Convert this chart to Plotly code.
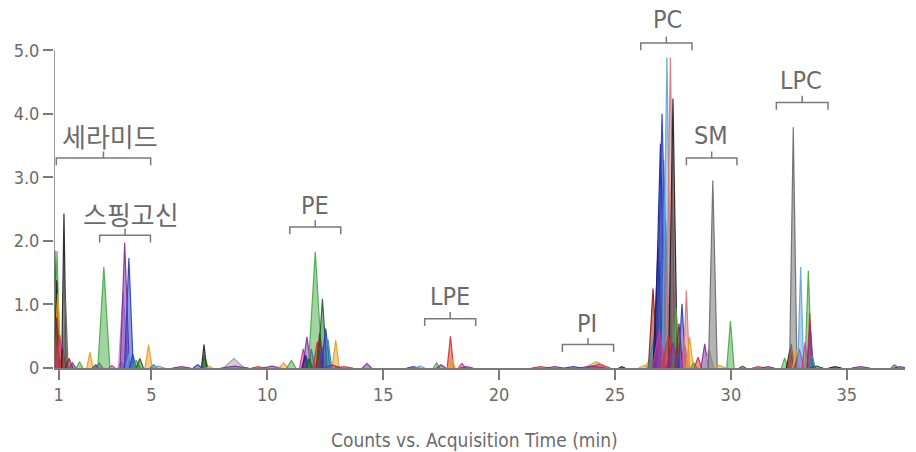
import plotly.graph_objects as go

# ---------------- data ----------------
# retention time (min), peak height, half base width (min), trace colour key
peak_time = [
    0.84, 0.93, 0.92, 0.96, 0.90, 1.05, 1.18, 1.23, 1.30, 1.45, 1.60, 1.90, 2.35, 2.60, 2.75,
    2.95, 3.30, 3.70, 3.78, 3.85, 4.03, 4.10, 4.20, 4.35, 4.50, 4.88, 5.10, 5.30, 6.30, 7.00,
    7.27, 7.30, 7.50, 8.56, 8.60, 9.60, 10.20, 10.70, 11.04,
    11.55, 11.71, 11.65, 11.90, 12.07, 12.16, 12.26, 12.38, 12.35, 12.52, 12.62, 12.95, 11.80,
    12.80, 14.30, 13.30,
    16.30, 16.60, 17.30, 17.50, 17.90, 17.95, 18.40, 18.60,
    21.80, 22.40, 23.20, 24.20, 24.30, 24.00, 25.30,
    26.30, 26.50, 26.64, 26.70, 26.86, 26.96, 27.03, 27.10, 27.19, 27.24, 27.39, 27.50, 26.90,
    27.30, 27.63, 27.76, 27.50, 27.89, 28.00, 28.08, 28.22, 28.40, 28.58, 28.87, 29.05, 29.22,
    29.50, 29.98, 30.50, 31.20, 31.60,
    32.32, 32.55, 32.60, 32.69, 32.80, 32.95, 33.01, 33.20, 33.34, 33.40, 33.42, 33.50, 33.70,
    34.50, 35.60, 37.06, 37.30,
]
peak_height = [
    1.85, 1.84, 1.38, 1.17, 0.80, 0.52, 0.30, 2.43, 1.07, 0.15, 0.08, 0.10, 0.25, 0.05, 0.08,
    1.59, 0.04, 0.10, 1.20, 1.97, 1.73, 0.30, 0.22, 0.12, 0.15, 0.37, 0.05, 0.03, 0.02, 0.05,
    0.37, 0.20, 0.03, 0.15, 0.03, 0.02, 0.03, 0.08, 0.12,
    0.30, 0.49, 0.20, 0.30, 1.83, 0.41, 0.55, 1.09, 0.35, 0.62, 0.45, 0.44, 0.15,
    0.05, 0.07, 0.02,
    0.02, 0.03, 0.08, 0.05, 0.50, 0.15, 0.07, 0.02,
    0.02, 0.02, 0.02, 0.10, 0.06, 0.03, 0.02,
    0.05, 0.15, 1.25, 0.50, 1.90, 3.53, 4.00, 3.27, 2.32, 4.89, 4.89, 4.24, 0.60,
    0.50, 0.95, 0.70, 0.40, 1.01, 0.40, 1.22, 0.49, 0.08, 0.17, 0.38, 0.30, 2.95,
    0.04, 0.74, 0.03, 0.02, 0.02,
    0.16, 0.30, 0.38, 3.79, 0.30, 0.30, 1.59, 0.40, 1.53, 0.86, 0.67, 0.20, 0.03,
    0.02, 0.02, 0.05, 0.02,
]
peak_width = [
    0.10, 0.14, 0.11, 0.16, 0.14, 0.14, 0.14, 0.10, 0.11, 0.16, 0.14, 0.14, 0.14, 0.14, 0.16,
    0.26, 0.14, 0.14, 0.20, 0.20, 0.19, 0.20, 0.14, 0.16, 0.16, 0.16, 0.16, 0.28, 0.40, 0.20,
    0.11, 0.14, 0.14, 0.45, 0.60, 0.28, 0.40, 0.20, 0.20,
    0.16, 0.19, 0.16, 0.16, 0.30, 0.20, 0.16, 0.20, 0.14, 0.19, 0.16, 0.16, 0.14,
    0.40, 0.20, 0.40,
    0.28, 0.20, 0.14, 0.20, 0.14, 0.16, 0.16, 0.28,
    0.40, 0.40, 0.40, 0.55, 0.50, 0.60, 0.14,
    0.28, 0.20, 0.20, 0.28, 0.22, 0.26, 0.26, 0.24, 0.20, 0.20, 0.20, 0.19, 0.28,
    0.28, 0.16, 0.16, 0.28, 0.16, 0.16, 0.13, 0.16, 0.14, 0.16, 0.16, 0.20, 0.19,
    0.28, 0.16, 0.14, 0.28, 0.28,
    0.14, 0.16, 0.14, 0.16, 0.14, 0.20, 0.13, 0.14, 0.15, 0.11, 0.14, 0.14, 0.28,
    0.28, 0.40, 0.16, 0.28,
]
peak_trace = [
    "darkgreen", "green", "black", "orange", "darkred", "pink", "red", "black", "gray", "darkred",
    "purple", "green", "orange", "blue", "purple",
    "green", "pink", "darkgreen", "lilac", "purple", "blue", "lightblue", "blue", "green",
    "darkgreen", "orange", "teal", "lightblue", "purple", "blue",
    "black", "darkgreen", "orange", "lightgray", "purple", "red", "purple", "orange", "green",
    "pink", "purple", "darkblue", "blue", "green", "red", "darkred", "darkgreen", "purple",
    "blue", "teal", "orange", "darkgreen",
    "purple", "purple", "red",
    "blue", "lightblue", "green", "purple", "red", "orange", "pink", "purple",
    "red", "purple", "blue", "orange", "pink", "purple", "black",
    "orange", "orange", "darkred", "teal", "black", "darkblue", "blue", "midblue", "gray",
    "lightblue", "salmon", "black", "pink",
    "red", "green", "darkred", "purple", "blue", "pink", "salmon", "orange", "green", "red",
    "purple", "lightgray", "gray",
    "orange", "green", "darkgreen", "red", "purple",
    "green", "black", "red", "gray", "orange", "purple", "lightblue", "pink", "green", "red",
    "purple", "teal", "darkgreen",
    "black", "purple", "gray", "purple",
]

x_ticks = [1, 5, 10, 15, 20, 25, 30, 35]
y_ticks = [0, 1, 2, 3, 4, 5]
y_tick_text = ["0", "1.0", "2.0", "3.0", "4.0", "5.0"]

group_labels = ["세라미드", "스핑고신", "PE", "LPE", "PI", "PC", "SM", "LPC"]
group_start = [0.90, 2.77, 10.97, 16.79, 22.73, 26.11, 28.08, 31.96]
group_end = [4.97, 4.96, 13.17, 18.99, 24.94, 28.32, 30.26, 34.19]

# ---------------- styling ----------------
palette = {
    "green": (69, 168, 69), "darkgreen": (30, 100, 40), "black": (30, 30, 30),
    "gray": (105, 105, 105), "lightgray": (160, 160, 170), "purple": (125, 45, 160),
    "lilac": (190, 140, 210), "blue": (40, 60, 190), "darkblue": (25, 30, 140),
    "midblue": (60, 90, 200), "lightblue": (95, 165, 220), "red": (210, 50, 45),
    "darkred": (140, 25, 25), "salmon": (215, 120, 120), "pink": (215, 50, 135),
    "orange": (230, 160, 30), "teal": (40, 140, 160),
}
FONT = "DejaVu Sans Condensed, Liberation Sans Narrow, Roboto, sans-serif"
GREY = "#6b6b6b"

label_pos = [(3.20, 3.66), (4.13, 2.43), (12.07, 2.56), (17.87, 1.12),
             (23.81, 0.70), (27.26, 5.48), (29.16, 3.66), (33.04, 4.53)]
levels = [3.305, 2.09, 2.22, 0.777, 0.368, 5.115, 3.305, 4.18]

fig = go.Figure()
for t, h, w, key in zip(peak_time, peak_height, peak_width, peak_trace):
    r, g, b = palette[key]
    fig.add_trace(go.Scatter(
        x=[t - w, t, t + w], y=[0, h, 0], mode="lines", fill="toself",
        fillcolor=f"rgba({r},{g},{b},0.5)",
        line=dict(color=f"rgba({r},{g},{b},0.9)", width=1.2),
        hoverinfo="skip", showlegend=False,
    ))

leg = 0.115
for lab, x0, x1, lv, (lx, ly) in zip(group_labels, group_start, group_end, levels, label_pos):
    xm = (x0 + x1) / 2
    path = (f"M {x0},{lv - leg} L {x0},{lv} L {x1},{lv} L {x1},{lv - leg} "
            f"M {xm},{lv} L {xm},{lv + leg * 0.9}")
    fig.add_shape(type="path", path=path, xref="x", yref="y",
                  line=dict(color="#7a7a7a", width=1.5))
    is_kr = not lab.isascii()
    fig.add_annotation(x=lx, y=ly, xref="x", yref="y", text=lab, showarrow=False,
                       font=dict(family=("Noto Sans CJK KR" if is_kr else FONT),
                                 size=(26 if is_kr else 25), color=GREY))

# y axis line (only up to 5.0)
fig.add_shape(type="line", x0=0.8, x1=0.8, y0=0, y1=5.0, xref="x", yref="y",
              line=dict(color="#7a7a7a", width=1.5))

fig.add_annotation(x=0.4947, y=-0.201, xref="paper", yref="paper",
                   text="Counts vs. Acquisition Time (min)", showarrow=False,
                   font=dict(family=FONT, size=19, color=GREY), yanchor="middle")

fig.update_layout(
    width=916, height=452, margin=dict(l=54, r=11, t=10, b=84),
    paper_bgcolor="white", plot_bgcolor="white",
    xaxis=dict(range=[0.8, 37.51], tickvals=x_ticks, ticks="outside", ticklen=10,
               tickcolor="#7a7a7a", tickwidth=1.5, showline=True, linecolor="#7a7a7a",
               linewidth=1.5, showgrid=False, zeroline=False,
               tickfont=dict(family=FONT, size=18, color=GREY)),
    yaxis=dict(range=[0, 5.634], tickvals=y_ticks, ticktext=y_tick_text, ticks="outside",
               ticklen=10, tickcolor="#7a7a7a", tickwidth=1.5, showline=False,
               showgrid=False, zeroline=False,
               tickfont=dict(family=FONT, size=18, color=GREY)),
)

fig.write_html("out.html")
